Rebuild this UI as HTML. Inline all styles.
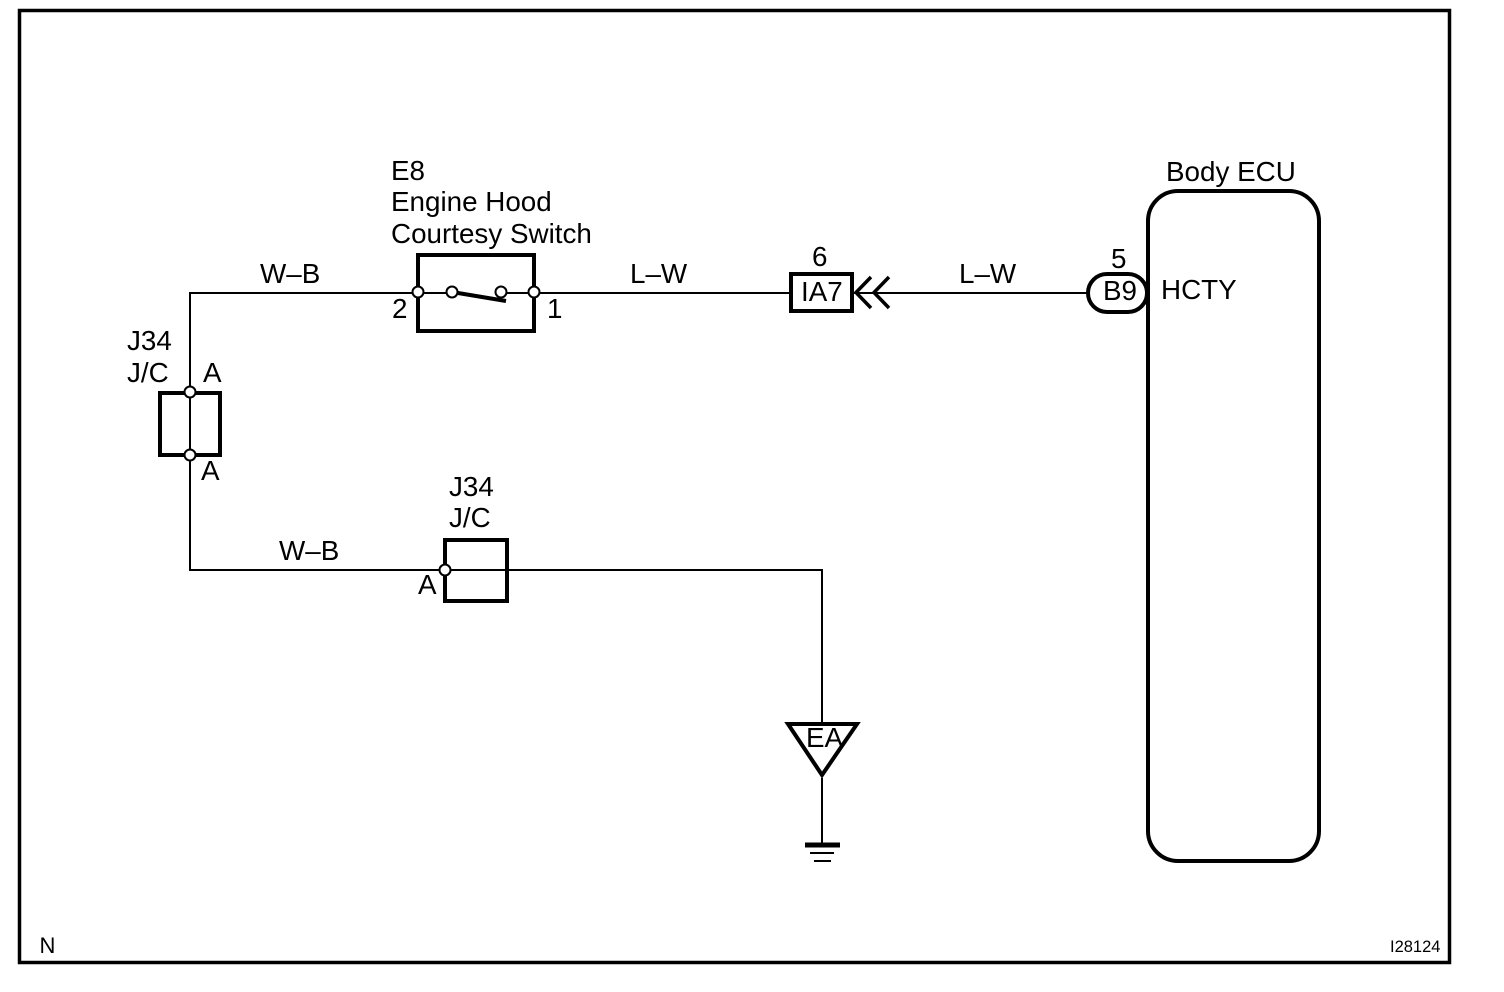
<!DOCTYPE html>
<html><head><meta charset="utf-8"><style>
html,body{margin:0;padding:0;background:#fff;width:1504px;height:992px;overflow:hidden}
svg{display:block}
text{font-family:"Liberation Sans",Arial,sans-serif;font-size:27.8px;fill:#000}
</style></head><body>
<svg width="1504" height="992" viewBox="0 0 1504 992" xmlns="http://www.w3.org/2000/svg">
<rect x="19.5" y="10.5" width="1430" height="952" fill="none" stroke="#000" stroke-width="3.5"/>
<g fill="none" stroke="#000" stroke-width="2">
<path d="M190 455V570H445M190 392V293H418H452M501 293H790M853 293H1088M508 570H822V724M822 778V845M190 392V455M445 570H508"/>
</g>
<g fill="none" stroke="#000" stroke-width="4">
<rect x="418" y="255" width="116" height="76"/>
<rect x="791" y="274" width="61" height="37"/>
<rect x="160" y="393" width="60" height="62"/>
<rect x="445" y="540" width="62" height="61"/>
<rect x="1148" y="191" width="171" height="670" rx="30" ry="30"/>
<rect x="1088" y="274" width="59" height="38" rx="19" ry="19" fill="#fff"/>
<path d="M871 277L856 292.500L871 308M889 277L874 292.500L889 308" stroke-width="3.500"/>
</g>
<path d="M452 292L506 301" stroke="#000" stroke-width="4" fill="none"/>
<path d="M788 724H857L822 775Z" fill="none" stroke="#000" stroke-width="4"/>
<g stroke="#000" fill="none">
<path d="M805 845H840" stroke-width="5"/>
<path d="M810 853H834" stroke-width="2"/>
<path d="M814 861H831" stroke-width="2"/>
</g>
<g fill="#fff" stroke="#000" stroke-width="2">
<circle cx="418" cy="292" r="5.5"/>
<circle cx="452" cy="292" r="5.5"/>
<circle cx="501" cy="292" r="5.5"/>
<circle cx="534" cy="292" r="5.5"/>
<circle cx="190" cy="392" r="5.5"/>
<circle cx="190" cy="455" r="5.5"/>
<circle cx="445" cy="570" r="5.5"/>
</g>
<text x="391" y="180">E8</text>
<text x="391" y="211">Engine Hood</text>
<text x="391" y="243">Courtesy Switch</text>
<text x="260" y="283">W–B</text>
<text x="630" y="283">L–W</text>
<text x="959" y="283">L–W</text>
<text x="279" y="560">W–B</text>
<text x="392" y="318">2</text>
<text x="547" y="318">1</text>
<text x="812" y="266">6</text>
<text x="801" y="301">IA7</text>
<text x="1111" y="268">5</text>
<text x="1103" y="300">B9</text>
<text x="1161" y="299">HCTY</text>
<text x="1166" y="181">Body ECU</text>
<text x="127" y="350">J34</text>
<text x="127" y="382">J/C</text>
<text x="203" y="382">A</text>
<text x="201" y="480">A</text>
<text x="449" y="496">J34</text>
<text x="449" y="527">J/C</text>
<text x="418" y="594">A</text>
<text x="806" y="747">EA</text>
<text x="39.500" y="953" style="font-size:22px">N</text>
<text x="1390" y="952" style="font-size:16.500px">I28124</text>
</svg>
</body></html>
